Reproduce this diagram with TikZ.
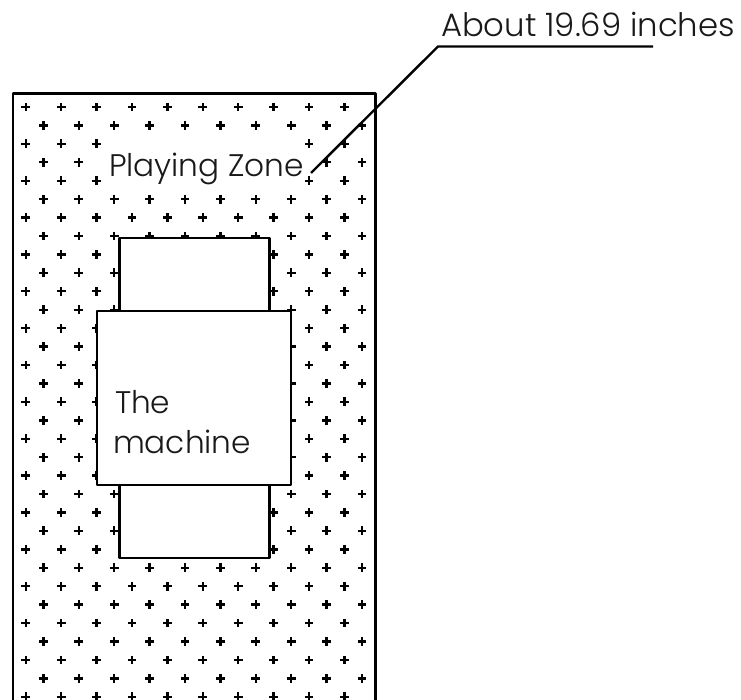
\documentclass[tikz,border=0pt]{standalone}
\usepackage{fontspec}
\setmainfont{Poppins}[UprightFont=* Light]
\tikzset{
  zone/.style={draw=black,line width=2.4pt,fill=white,line join=round},
  lbl/.style={anchor=base west,inner sep=0pt,outer sep=0pt,text=black!90,font=\fontsize{31.2}{33}\selectfont},
  biglbl/.style={lbl,font=\fontsize{32.3}{34}\selectfont},
  leader/.style={draw=black,line width=2.4pt}
}
\begin{document}
\begin{tikzpicture}[x=1pt,y=-1pt]
\useasboundingbox (0,0) rectangle (741,700);
\begin{scope}
\clip (0,0) rectangle (741,700);
\draw[zone] (13,93.5) rectangle (375.5,720);
\foreach \k in {0,...,32}{
  \pgfmathsetmacro{\yy}{107+18.43*\k}
  \pgfmathtruncatemacro{\odd}{mod(\k,2)}
  \foreach \i in {0,...,9}{
    \pgfmathsetmacro{\xx}{25.7+35.4*\i+\odd*17.7}
    \pgfmathtruncatemacro{\skip}{(\k>=2)&&(\k<=4)&&(\xx>100)&&(\xx<300)?1:0}
    \ifnum\skip=0
      \fill[black] (\xx-4.4,\yy-1.2) rectangle (\xx+4.4,\yy+1.2);
      \fill[black] (\xx-1.2,\yy-4.4) rectangle (\xx+1.2,\yy+4.4);
    \fi
  }
}
\draw[zone] (119.3,238.3) rectangle (269.3,311);
\draw[zone] (119.3,485) rectangle (269.3,557.7);
\draw[zone] (96.8,311) rectangle (291,485);
\end{scope}
\node[lbl] (zonelabel) at (109,176.5) {Playing Zone};
\node[lbl] (the) at (115,413.5) {The};
\node[lbl] (machine) at (113,453.5) {machine};
\node[biglbl] (size) at (441,37) {About 19.69 inches};
\coordinate (tip) at (311,173);
\coordinate (bend) at (438,46.5);
\coordinate (tail) at (653,46.5);
\draw[leader] (tip) -- (bend) -- (tail);
\end{tikzpicture}
\end{document}
